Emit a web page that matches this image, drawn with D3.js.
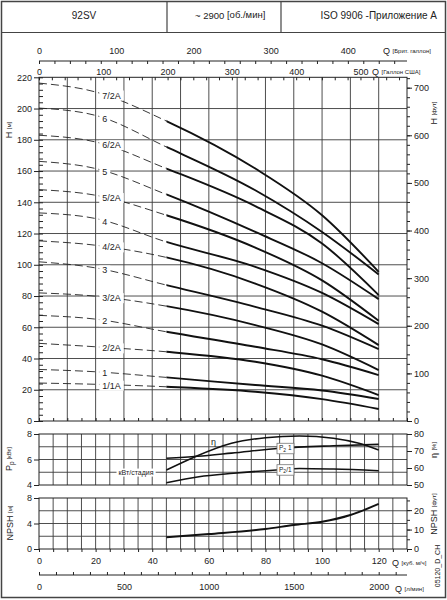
<!DOCTYPE html>
<html>
<head>
<meta charset="utf-8">
<script src="https://cdn.jsdelivr.net/npm/d3@7"></script>
<style>
  body { margin: 0; background: #fff; }
  svg text { font-family: "Liberation Sans", Arial, Helvetica, sans-serif; fill: #222; }
</style>
</head>
<body>
<svg id="chart" width="447" height="600"></svg>
<script>
// flow points (m3/h) where head curves were read
const qPoints = [0, 20, 45, 76.4, 100, 120];
const curveNames = ['7/2A', '6', '6/2A', '5', '5/2A', '4', '4/2A', '3', '3/2A', '2', '2/2A', '1', '1/1A'];
const h7_2A = [216.3, 210.6, 192.0, 161.6, 131.7, 95.5];
const h6    = [200.3, 195.6, 175.4, 147.7, 121.0, 93.8];
const h6_2A = [182.9, 178.6, 161.6, 137.5, 113.6, 80.6];
const h5    = [166.2, 161.6, 145.0, 121.0, 101.0, 78.0];
const h5_2A = [148.1, 144.5, 131.7, 111.0, 90.0, 64.1];
const h4    = [133.2, 129.6, 114.6, 98.7, 82.0, 62.0];
const h4_2A = [115.3, 112.5, 104.7, 88.0, 70.0, 48.6];
const h3    = [101.9, 98.0, 87.0, 73.1, 61.0, 46.0];
const h3_2A = [82.0, 79.9, 73.5, 61.4, 49.0, 32.6];
const h2    = [67.6, 65.2, 57.1, 47.5, 39.5, 29.4];
const h2_2A = [49.7, 47.5, 44.3, 37.9, 29.0, 16.6];
const h1    = [33.0, 31.5, 27.9, 23.0, 19.5, 14.1];
const h1_1A = [24.3, 23.5, 21.9, 18.7, 14.0, 7.7];
const headValues = [h7_2A, h6, h6_2A, h5, h5_2A, h4, h4_2A, h3, h3_2A, h2, h2_2A, h1, h1_1A];
const qSolidStart = 45;

// efficiency and power per stage
const qEta = [45, 55, 68, 80, 92, 104, 113, 120];
const etaValues = [58.8, 66.5, 74.5, 77.8, 78.8, 77.5, 74.5, 70.6];
const qP2max = [45, 56, 68, 85, 104, 120];
const p2maxValues = [6.1, 6.25, 6.5, 6.88, 7.08, 7.19];
const qP2 = [45, 56.5, 68.7, 85, 92, 104, 120];
const p2Values = [4.18, 4.65, 4.92, 5.2, 5.3, 5.25, 5.12];

// NPSH
const qNpsh = [45, 60, 80, 90, 100, 110, 120];
const npshValues = [1.84, 2.35, 3.14, 3.76, 4.28, 5.33, 7.06];

// axis ticks
const hTicks = d3.range(0, 221, 20);
const ftTicks = d3.range(0, 701, 100);
const impTicks = [0, 100, 200, 300, 400];
const usTicks = [0, 100, 200, 300, 400, 500];
const qTicks = [0, 20, 40, 60, 80, 100, 120];
const lminTicks = [0, 500, 1000, 1500, 2000];
const pTicks = [4, 6, 8];
const etaTicks = [50, 60, 70, 80];
const npshTicks = [0, 4, 8];
const npshFtTicks = [0, 10, 20];

const svg = d3.select('#chart');
const ink = '#222';
const gridColor = '#3a3a3a';
const fmt = d3.format('d');

const X0 = 39, X1 = 407;
const x = d3.scaleLinear().domain([0, 130]).range([X0, X1]);
const xImp = d3.scaleLinear().domain([0, 130 * 3.6662]).range([X0, X1]);
const xUs = d3.scaleLinear().domain([0, 130 * 4.4029]).range([X0, X1]);
const xLmin = d3.scaleLinear().domain([0, 130 * 16.6667]).range([X0, X1]);

const yH = d3.scaleLinear().domain([0, 220]).range([421, 77.3]);
const yFt = d3.scaleLinear().domain([0, 220 * 3.28084]).range([421, 77.3]);
const yP = d3.scaleLinear().domain([4, 8]).range([485, 434]);
const yEta = d3.scaleLinear().domain([50, 80]).range([485, 434]);
const yN = d3.scaleLinear().domain([0, 8]).range([549, 498]);
const yNft = d3.scaleLinear().domain([0, 8 * 3.28084]).range([549, 498]);

function styleAxis(g, size) {
  g.select('.domain').remove();
  g.selectAll('line').attr('stroke', ink);
  g.selectAll('text').attr('font-size', size || 9).attr('fill', ink)
    .style('font-family', '"Liberation Sans", Arial, sans-serif');
}

// ---- outer frame and header
svg.append('rect').attr('x', 1.5).attr('y', 1.5).attr('width', 444).attr('height', 596)
  .attr('fill', 'none').attr('stroke', '#444').attr('stroke-width', 1.5);
svg.append('line').attr('x1', 1.5).attr('x2', 445.5).attr('y1', 32.5).attr('y2', 32.5)
  .attr('stroke', '#444').attr('stroke-width', 1.2);
[167, 281].forEach(xx => svg.append('line').attr('x1', xx).attr('x2', xx).attr('y1', 1.5).attr('y2', 32.5)
  .attr('stroke', '#444').attr('stroke-width', 1.2));
svg.append('text').attr('x', 84).attr('y', 19).attr('text-anchor', 'middle').attr('font-size', 10).text('92SV');
const rpm = svg.append('text').attr('x', 195).attr('y', 19).attr('font-size', 9.5);
rpm.append('tspan').text('~ 2900');
rpm.append('tspan').attr('font-size', 9.5).attr('dy', -1.5).text(' [об./мин]');
svg.append('text').attr('x', 437).attr('y', 19).attr('text-anchor', 'end').attr('font-size', 10)
  .text('ISO 9906 -Приложение A');

// unit label helper: big letter + small bracket text
function unitLabel(xx, yy, main, unit, rotate) {
  const t = svg.append('text').attr('x', xx).attr('y', yy).attr('font-size', 9);
  if (rotate) t.attr('transform', `rotate(-90,${xx},${yy})`).attr('text-anchor', 'middle');
  main.forEach(m => {
    const s = t.append('tspan').text(m.t);
    if (m.sub) s.attr('font-size', 6.5).attr('dy', 2);
  });
  t.append('tspan').attr('font-size', 6).attr('dy', unit.dy || -1.5).text(unit.t);
  return t;
}

// ---- top British gallon axis
svg.append('line').attr('x1', X0).attr('x2', X1).attr('y1', 61).attr('y2', 61).attr('stroke', ink);
svg.append('g').attr('transform', 'translate(0,61)')
  .call(d3.axisBottom(xImp).tickValues(d3.range(0, 461, 20)).tickSize(3).tickFormat(''))
  .call(g => styleAxis(g));
svg.append('g').attr('transform', 'translate(0,61)')
  .call(d3.axisTop(xImp).tickValues(impTicks).tickSize(0).tickPadding(7).tickFormat(fmt))
  .call(g => styleAxis(g));
unitLabel(383, 53.5, [{ t: 'Q ' }], { t: '[Брит. галлон]', dy: -1 });

// ---- main head chart
const main = svg.append('g');
main.append('g').selectAll('line').data(d3.range(10, 130, 10)).join('line')
  .attr('x1', d => x(d)).attr('x2', d => x(d)).attr('y1', yH(220)).attr('y2', yH(0))
  .attr('stroke', gridColor).attr('stroke-width', 0.9);
main.append('g').selectAll('line').data(d3.range(20, 220, 20)).join('line')
  .attr('x1', X0).attr('x2', X1).attr('y1', d => yH(d)).attr('y2', d => yH(d))
  .attr('stroke', gridColor).attr('stroke-width', 0.9);
main.append('rect').attr('x', X0).attr('y', yH(220)).attr('width', X1 - X0).attr('height', yH(0) - yH(220))
  .attr('fill', 'none').attr('stroke', ink);

// left H axis
main.append('g').attr('transform', `translate(${X0},0)`)
  .call(d3.axisLeft(yH).tickValues(hTicks).tickSize(5).tickPadding(2).tickFormat(fmt)).call(g => styleAxis(g));
main.append('g').attr('transform', `translate(${X0},0)`)
  .call(d3.axisRight(yH).tickValues(d3.range(0, 221, 4)).tickSize(4).tickFormat('')).call(g => styleAxis(g));
// right ft axis
main.append('g').attr('transform', `translate(${X1},0)`)
  .call(d3.axisRight(yFt).tickValues(ftTicks).tickSize(5).tickPadding(2).tickFormat(fmt)).call(g => styleAxis(g));
main.append('g').attr('transform', `translate(${X1},0)`)
  .call(d3.axisRight(yFt).tickValues(d3.range(0, 721, 20)).tickSize(3).tickFormat('')).call(g => styleAxis(g));
// top US gallon axis
main.append('g').attr('transform', `translate(0,${yH(220)})`)
  .call(d3.axisTop(xUs).tickValues(usTicks).tickSize(0).tickPadding(2).tickFormat(fmt)).call(g => styleAxis(g));
main.append('g').attr('transform', `translate(0,${yH(220)})`)
  .call(d3.axisBottom(xUs).tickValues(d3.range(0, 561, 20)).tickSize(3).tickFormat('')).call(g => styleAxis(g));
unitLabel(372, 75, [{ t: 'Q ' }], { t: '[Галлон США]', dy: -1 });
// bottom ticks
main.append('g').attr('transform', `translate(0,${yH(0)})`)
  .call(d3.axisTop(x).tickValues(d3.range(0, 131, 5)).tickSize(3).tickFormat('')).call(g => styleAxis(g));

unitLabel(12, 130, [{ t: 'H ' }], { t: '[м]', dy: 0 }, true);
unitLabel(437, 113, [{ t: 'H ' }], { t: '[фут]', dy: 0 }, true);

// head curves
const defs = svg.append('defs');
defs.append('clipPath').attr('id', 'clipDash').append('rect')
  .attr('x', X0).attr('y', 0).attr('width', x(qSolidStart) - X0).attr('height', 600);
defs.append('clipPath').attr('id', 'clipSolid').append('rect')
  .attr('x', x(qSolidStart)).attr('y', 0).attr('width', X1 - x(qSolidStart)).attr('height', 600);

const headLine = d3.line().x(d => x(d[0])).y(d => yH(d[1])).curve(d3.curveMonotoneX);
const curves = curveNames.map((name, i) => ({ name, pts: qPoints.map((q, j) => [q, headValues[i][j]]) }));

main.append('g').attr('clip-path', 'url(#clipDash)').selectAll('path').data(curves).join('path')
  .attr('d', d => headLine(d.pts)).attr('fill', 'none').attr('stroke', ink)
  .attr('stroke-width', 0.9).attr('stroke-dasharray', '8,4');
main.append('g').attr('clip-path', 'url(#clipSolid)').selectAll('path').data(curves).join('path')
  .attr('d', d => headLine(d.pts)).attr('fill', 'none').attr('stroke', '#111')
  .attr('stroke-width', 1.9);

// curve labels on the dashed part
const labelQ = 22;
curves.forEach((c, i) => {
  const yy = yH(d3.scaleLinear().domain(qPoints).range(headValues[i])(labelQ)) + 1;
  const t = main.append('text').attr('x', x(labelQ) + 1).attr('y', yy + 3.2)
    .attr('font-size', 9).text(c.name);
  const bb = t.node().getBBox();
  main.insert('rect', () => t.node()).attr('x', bb.x - 3).attr('y', bb.y)
    .attr('width', bb.width + 6).attr('height', bb.height).attr('fill', '#fff');
});

// ---- power / efficiency panel
const pw = svg.append('g');
pw.append('g').selectAll('line').data(d3.range(5, 130, 5)).join('line')
  .attr('x1', d => x(d)).attr('x2', d => x(d)).attr('y1', yP(8)).attr('y2', yP(4))
  .attr('stroke', gridColor).attr('stroke-width', 0.9);
pw.append('g').selectAll('line').data([5, 6, 7]).join('line')
  .attr('x1', X0).attr('x2', X1).attr('y1', d => yP(d)).attr('y2', d => yP(d))
  .attr('stroke', gridColor).attr('stroke-width', 0.9);
pw.append('rect').attr('x', X0).attr('y', yP(8)).attr('width', X1 - X0).attr('height', yP(4) - yP(8))
  .attr('fill', 'none').attr('stroke', ink);
pw.append('g').attr('transform', `translate(${X0},0)`)
  .call(d3.axisLeft(yP).tickValues(pTicks).tickSize(5).tickPadding(2).tickFormat(fmt)).call(g => styleAxis(g));
pw.append('g').attr('transform', `translate(${X1},0)`)
  .call(d3.axisRight(yEta).tickValues(etaTicks).tickSize(5).tickPadding(2).tickFormat(fmt)).call(g => styleAxis(g));

// kW/stage note on the 5 kW line
const kw = pw.append('text').attr('x', 136).attr('y', yP(5) + 2.3).attr('text-anchor', 'middle')
  .attr('font-size', 7).attr('fill', ink).text('кВт/стадия');
const kb = kw.node().getBBox();
pw.insert('rect', () => kw.node()).attr('x', kb.x - 2).attr('y', kb.y).attr('width', kb.width + 4)
  .attr('height', kb.height).attr('fill', '#fff');

const pLine = d3.line().x(d => x(d[0])).y(d => yP(d[1])).curve(d3.curveMonotoneX);
const etaLine = d3.line().x(d => x(d[0])).y(d => yEta(d[1])).curve(d3.curveMonotoneX);
pw.append('path').attr('d', etaLine(qEta.map((q, i) => [q, etaValues[i]])))
  .attr('fill', 'none').attr('stroke', '#111').attr('stroke-width', 1.6);
pw.append('path').attr('d', pLine(qP2max.map((q, i) => [q, p2maxValues[i]])))
  .attr('fill', 'none').attr('stroke', '#111').attr('stroke-width', 1.6);
pw.append('path').attr('d', pLine(qP2.map((q, i) => [q, p2Values[i]])))
  .attr('fill', 'none').attr('stroke', '#111').attr('stroke-width', 1.6);
pw.append('text').attr('x', 211).attr('y', 445).attr('font-size', 9).text('η');

function boxLabel(qx, pv, after) {
  const g = pw.append('g');
  const t = g.append('text').attr('x', x(qx)).attr('y', yP(pv) + 2).attr('text-anchor', 'middle').attr('font-size', 6.5);
  t.append('tspan').text('P');
  t.append('tspan').attr('font-size', 5).attr('dy', 1.5).text('2');
  t.append('tspan').attr('dy', -1.5).text(after);
  const bb = t.node().getBBox();
  g.insert('rect', () => t.node()).attr('x', bb.x - 2).attr('y', bb.y - 1).attr('width', bb.width + 4)
    .attr('height', bb.height + 2).attr('fill', '#fff').attr('stroke', '#777').attr('stroke-width', 0.8);
}
boxLabel(87, 6.88, ' 1');
boxLabel(87, 5.2, '/1');

unitLabel(12, 459, [{ t: 'P' }, { t: 'p', sub: true }], { t: ' [кВт]', dy: -3 }, true);
unitLabel(437, 450, [{ t: 'η ' }], { t: '[%]', dy: 0 }, true);

// ---- NPSH panel
const np = svg.append('g');
np.append('g').selectAll('line').data(d3.range(5, 130, 5)).join('line')
  .attr('x1', d => x(d)).attr('x2', d => x(d)).attr('y1', yN(8)).attr('y2', yN(0))
  .attr('stroke', gridColor).attr('stroke-width', 0.9);
np.append('g').selectAll('line').data([2, 4, 6]).join('line')
  .attr('x1', X0).attr('x2', X1).attr('y1', d => yN(d)).attr('y2', d => yN(d))
  .attr('stroke', gridColor).attr('stroke-width', 0.9);
np.append('rect').attr('x', X0).attr('y', yN(8)).attr('width', X1 - X0).attr('height', yN(0) - yN(8))
  .attr('fill', 'none').attr('stroke', ink);
np.append('g').attr('transform', `translate(${X0},0)`)
  .call(d3.axisLeft(yN).tickValues(npshTicks).tickSize(5).tickPadding(2).tickFormat(fmt)).call(g => styleAxis(g));
np.append('g').attr('transform', `translate(${X1},0)`)
  .call(d3.axisRight(yNft).tickValues(npshFtTicks).tickSize(5).tickPadding(2).tickFormat(fmt)).call(g => styleAxis(g));
np.append('g').attr('transform', `translate(${X1},0)`)
  .call(d3.axisRight(yNft).tickValues(d3.range(0, 26, 5)).tickSize(3).tickFormat('')).call(g => styleAxis(g));
const nLine = d3.line().x(d => x(d[0])).y(d => yN(d[1])).curve(d3.curveMonotoneX);
np.append('path').attr('d', nLine(qNpsh.map((q, i) => [q, npshValues[i]])))
  .attr('fill', 'none').attr('stroke', '#111').attr('stroke-width', 1.9);

unitLabel(13, 523, [{ t: 'NPSH ' }], { t: '[м]', dy: 0 }, true);
unitLabel(437, 514, [{ t: 'NPSH ' }], { t: '[фут]', dy: 0 }, true);

// bottom m3/h axis
np.append('g').attr('transform', `translate(0,${yN(0)})`)
  .call(d3.axisBottom(x).tickValues(d3.range(0, 131, 5)).tickSize(3)
    .tickFormat(d => qTicks.includes(d) ? fmt(d) : '').tickPadding(6))
  .call(g => styleAxis(g));
unitLabel(392, 565.5, [{ t: 'Q ' }], { t: '[куб. м/ч]', dy: -1 });

// bottom l/min axis
svg.append('line').attr('x1', X0).attr('x2', X1).attr('y1', 575).attr('y2', 575).attr('stroke', ink);
svg.append('g').attr('transform', 'translate(0,575)')
  .call(d3.axisTop(xLmin).tickValues(d3.range(0, 2101, 100)).tickSize(3).tickFormat('')).call(g => styleAxis(g));
svg.append('g').attr('transform', 'translate(0,575)')
  .call(d3.axisBottom(xLmin).tickValues(lminTicks).tickSize(0).tickPadding(9).tickFormat(fmt)).call(g => styleAxis(g));
unitLabel(395, 591.5, [{ t: 'Q ' }], { t: '[л/мин]', dy: -1 });

svg.append('text').attr('transform', 'rotate(-90,440,566)').attr('x', 440).attr('y', 566)
  .attr('text-anchor', 'middle').attr('font-size', 7).text('05120_D_CH');
</script>
</body>
</html>
